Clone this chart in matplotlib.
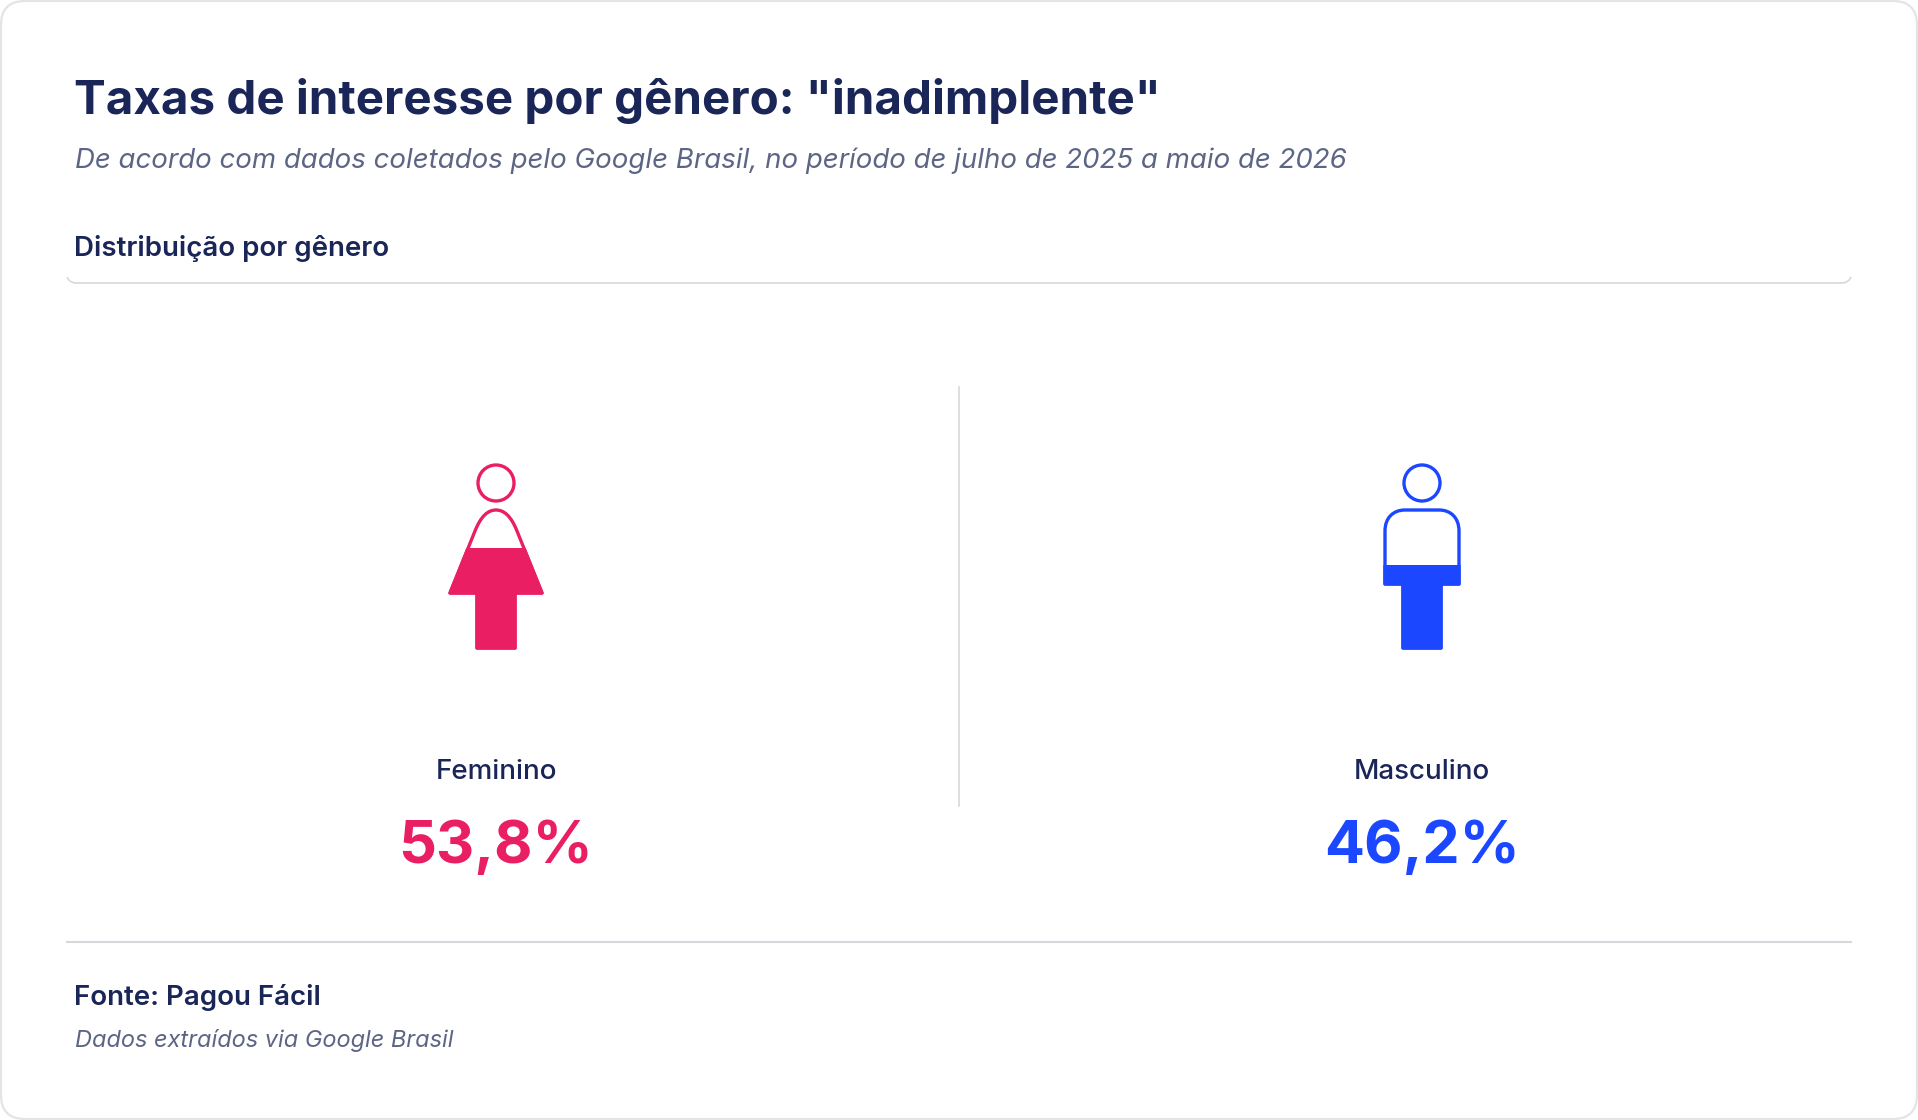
import matplotlib
matplotlib.use('Agg')
import matplotlib.pyplot as plt
from matplotlib.patches import FancyBboxPatch, PathPatch, Circle, Rectangle
from matplotlib.path import Path

plt.rcParams['font.family'] = ['Inter', 'DejaVu Sans']

title = 'Taxas de interesse por gênero: "inadimplente"'
subtitle = 'De acordo com dados coletados pelo Google Brasil, no período de julho de 2025 a maio de 2026'
section = 'Distribuição por gênero'
source = 'Fonte: Pagou Fácil'
source_note = 'Dados extraídos via Google Brasil'

genders = ['Feminino', 'Masculino']
shares = [53.8, 46.2]
colors = ['#e91e63', '#1a47ff']

NAVY = '#1a2558'
GREY = '#5d6585'
RULE = '#d6d8dd'

W, H = 1918, 1120
ICON_BOTTOM = 648
icon_tops = [463, 469]


def female_body(cx):
    verts = [(cx - 46, 593), (cx - 21, 531),
             (cx - 15, 516), (cx - 8, 510), (cx, 510),
             (cx + 8, 510), (cx + 15, 516), (cx + 21, 531),
             (cx + 46, 593), (cx + 19, 593), (cx + 19, 648),
             (cx - 19, 648), (cx - 19, 593), (cx - 46, 593)]
    codes = [Path.MOVETO, Path.LINETO,
             Path.CURVE4, Path.CURVE4, Path.CURVE4,
             Path.CURVE4, Path.CURVE4, Path.CURVE4,
             Path.LINETO, Path.LINETO, Path.LINETO,
             Path.LINETO, Path.LINETO, Path.CLOSEPOLY]
    return Path(verts, codes)


def male_body(cx):
    verts = [(cx - 37, 584), (cx - 37, 531),
             (cx - 37, 518), (cx - 29, 510), (cx - 17, 510),
             (cx + 17, 510),
             (cx + 29, 510), (cx + 37, 518), (cx + 37, 531),
             (cx + 37, 584), (cx + 19, 584), (cx + 19, 648),
             (cx - 19, 648), (cx - 19, 584), (cx - 37, 584)]
    codes = [Path.MOVETO, Path.LINETO,
             Path.CURVE4, Path.CURVE4, Path.CURVE4,
             Path.LINETO,
             Path.CURVE4, Path.CURVE4, Path.CURVE4,
             Path.LINETO, Path.LINETO, Path.LINETO,
             Path.LINETO, Path.LINETO, Path.CLOSEPOLY]
    return Path(verts, codes)


fig = plt.figure(figsize=(W / 100, H / 100), dpi=100)
ax = fig.add_axes([0, 0, 1, 1])
ax.set_xlim(0, W)
ax.set_ylim(H, 0)
ax.axis('off')

# card
ax.add_patch(FancyBboxPatch((1, 1), W - 2, H - 2, boxstyle='round,pad=0,rounding_size=24',
                            fc='white', ec='#e2e4e8', lw=1.6))

ax.text(74, 114, title, fontsize=34.2, fontweight='bold', color=NAVY, va='baseline')
ax.text(75, 168.5, subtitle, fontsize=19.9, style='italic', color=GREY, va='baseline')
ax.text(74, 256, section, fontsize=19.9, fontweight='semibold', color=NAVY, va='baseline')

# rule under the section header, its ends curve up a little
ax.add_patch(PathPatch(Path([(67, 277), (69, 282), (75, 283), (1843, 283), (1849, 282), (1851, 277)],
                            [Path.MOVETO, Path.CURVE3, Path.CURVE3, Path.LINETO, Path.CURVE3, Path.CURVE3]),
                       fc='none', ec=RULE, lw=1.2))

ax.plot([959, 959], [387, 806], color=RULE, lw=1.2)
ax.plot([67, 1851], [942, 942], color=RULE, lw=1.5)

centers = [496, 1422]
bodies = [female_body, male_body]
for cx, name, share, col, body, top in zip(centers, genders, shares, colors, bodies, icon_tops):
    path = body(cx)
    ax.add_patch(Circle((cx, 483), 18, fc='white', ec=col, lw=2.4))
    ax.add_patch(PathPatch(path, fc='white', ec=col, lw=2.4, joinstyle='round'))
    # fill level comes from the share
    level = ICON_BOTTOM - (ICON_BOTTOM - top) * share / 100
    fill = ax.add_patch(PathPatch(path, fc=col, ec=col, lw=2.4, joinstyle='round'))
    fill.set_clip_path(Rectangle((0, level), W, H - level, transform=ax.transData))
    ax.text(cx, 779, name, fontsize=20, fontweight='medium', color=NAVY, ha='center', va='baseline')
    ax.text(cx, 863, f'{share:.1f}%'.replace('.', ','), fontsize=42.7, fontweight='bold',
            color=col, ha='center', va='baseline')

ax.text(74, 1005, source, fontsize=19.9, fontweight='semibold', color=NAVY, va='baseline')
ax.text(75, 1047, source_note, fontsize=16.95, style='italic', color=GREY, va='baseline')

fig.savefig('out.png', dpi=100, facecolor='white')
